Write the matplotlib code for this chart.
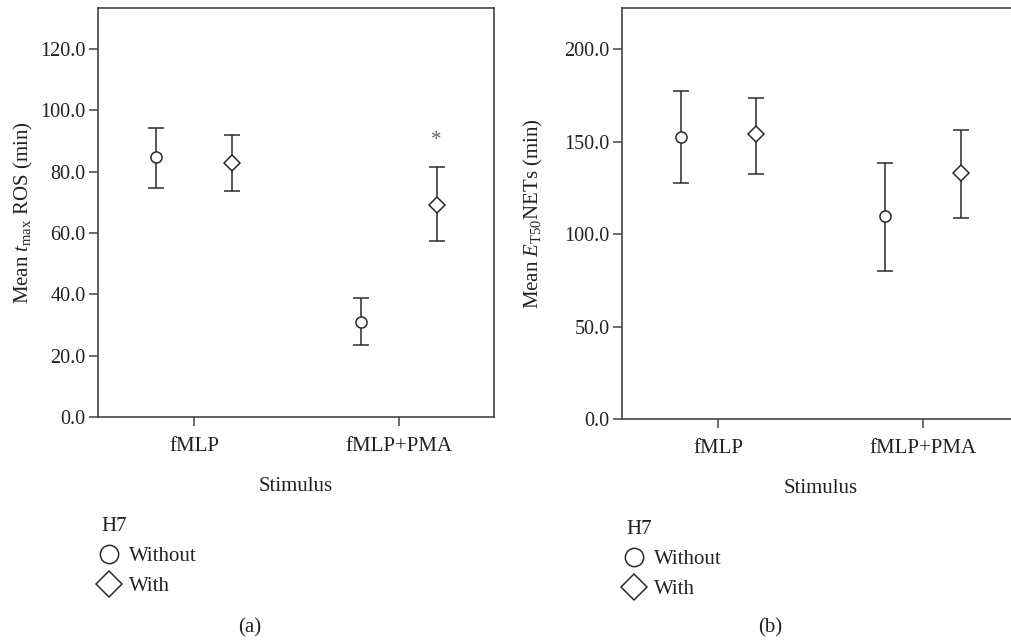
import numpy as np
import matplotlib
matplotlib.use("Agg")
import matplotlib.pyplot as plt

plt.rcParams['font.family'] = ['Liberation Serif', 'DejaVu Serif']
plt.rcParams['mathtext.fontset'] = 'custom'
plt.rcParams['mathtext.rm'] = 'Liberation Serif'
plt.rcParams['mathtext.it'] = 'Liberation Serif:italic'

categories = ['fMLP', 'fMLP+PMA']
groups = ['Without', 'With']

# panel (a): mean t_max ROS
ros_mean = {'Without': [84.7, 31.0], 'With': [82.7, 69.2]}
ros_low = {'Without': [74.8, 23.6], 'With': [73.7, 57.5]}
ros_high = {'Without': [94.3, 38.8], 'With': [92.0, 81.4]}

# panel (b): mean E_T50 NETs
nets_mean = {'Without': [152.6, 110.1], 'With': [154.4, 133.2]}
nets_low = {'Without': [127.9, 80.2], 'With': [132.8, 108.8]}
nets_high = {'Without': [177.6, 138.4], 'With': [173.5, 156.6]}

markers = {'Without': 'o', 'With': 'D'}
msizes = {'Without': 8, 'With': 7.8}
offsets = {'Without': -0.185, 'With': 0.185}
line_c = '#2a2a2a'
text_c = '#222222'
fs = 15
fs_tick = 14.5

fig = plt.figure(figsize=(10.11, 6.42), dpi=100)
ax_a = fig.add_axes([98 / 1011, 1 - 417.3 / 642, 396 / 1011, 409.3 / 642])
ax_b = fig.add_axes([622.3 / 1011, 1 - 419.3 / 642, 396 / 1011, 411.3 / 642])


def draw(ax, mean, low, high, ymax, yticks, ylabel, labx):
    x = np.arange(len(categories))
    handles = []
    for g in groups:
        xs = x + offsets[g]
        m = np.array(mean[g])
        err = [m - np.array(low[g]), np.array(high[g]) - m]
        ax.errorbar(xs, m, yerr=err, fmt='none', ecolor=line_c, elinewidth=1.1,
                    capsize=6, capthick=1.1, zorder=2)
        h, = ax.plot(xs, m, linestyle='none', marker=markers[g], markersize=msizes[g],
                     markerfacecolor='white', markeredgecolor=line_c,
                     markeredgewidth=1.1, zorder=3, label=g)
        handles.append(h)
    ax.set_xlim(-0.47, 1.465)
    ax.set_ylim(0, ymax)
    ax.set_xticks(x)
    ax.set_xticklabels(categories, fontsize=fs)
    ax.set_yticks(yticks)
    ax.set_yticklabels(['%.1f' % v for v in yticks], fontsize=fs_tick)
    for s in ax.spines.values():
        s.set_color('#444444')
        s.set_linewidth(1.2)
    ax.tick_params(axis='both', direction='out', length=6.5, width=1.1,
                   color='#444444', labelcolor=text_c)
    ax.tick_params(axis='y', pad=2.5)
    ax.tick_params(axis='x', pad=8)
    ax.set_xlabel('Stimulus', fontsize=fs, color=text_c, labelpad=15)
    ax.set_ylabel(ylabel, fontsize=fs, color=text_c)
    ax.yaxis.set_label_coords(labx, 0.5)
    return handles


h_a = draw(ax_a, ros_mean, ros_low, ros_high, 133.3, [0, 20, 40, 60, 80, 100, 120],
           r'Mean $t_{\mathrm{max}}$ ROS (min)', -0.16)
h_b = draw(ax_b, nets_mean, nets_low, nets_high, 222.3, [0, 50, 100, 150, 200],
           r'Mean $E_{\mathrm{T50}}$NETs (min)', -0.196)

ax_a.text(1 + offsets['With'], 90.0, '*', ha='center', va='center', fontsize=fs,
          color='#666666')

for hs, lx, ly in [(h_a, 90.5 / 1011, 1 - 507 / 642), (h_b, 615.5 / 1011, 1 - 510 / 642)]:
    leg = fig.legend(handles=hs, labels=groups, title='H7', loc='upper left',
                     bbox_to_anchor=(lx, ly), frameon=False, fontsize=fs,
                     title_fontsize=fs, handlelength=0.8, handletextpad=0.55,
                     labelspacing=0.5, borderpad=0, alignment='left',
                     markerscale=1.65)
    for t in leg.get_texts():
        t.set_color(text_c)
    leg.get_title().set_color(text_c)

fig.text(250 / 1011, 1 - 628 / 642, '(a)', ha='center', va='center', fontsize=fs, color=text_c)
fig.text(770 / 1011, 1 - 628 / 642, '(b)', ha='center', va='center', fontsize=fs, color=text_c)

fig.savefig('out.png', dpi=100)
